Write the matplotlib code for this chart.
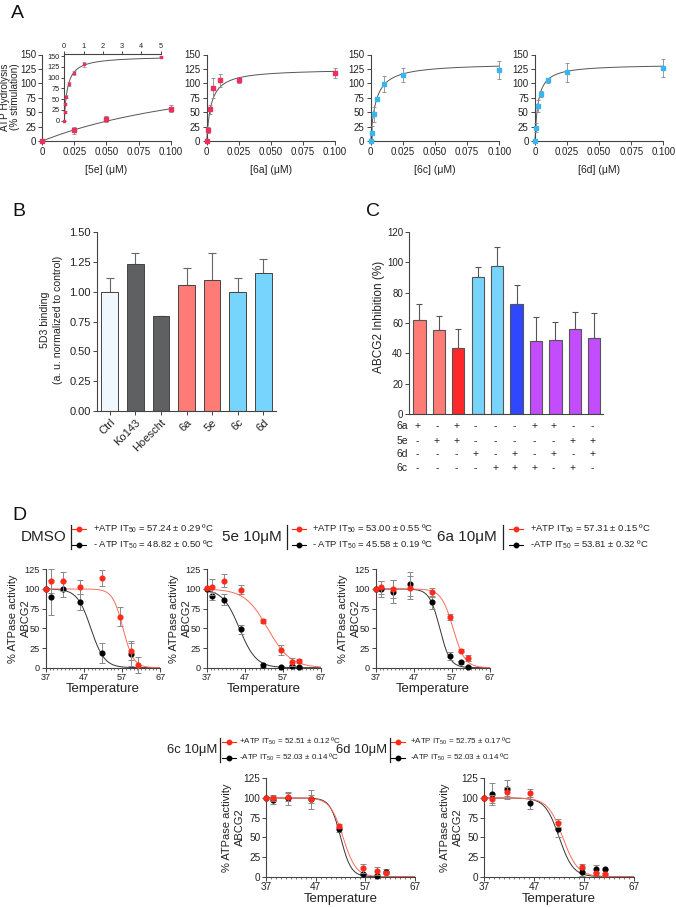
import numpy as np
import matplotlib
matplotlib.use('Agg')
import matplotlib.pyplot as plt
from matplotlib.lines import Line2D
from matplotlib.ticker import MultipleLocator

plt.rcParams['font.family'] = ['Liberation Sans', 'DejaVu Sans']
plt.rcParams['mathtext.fontset'] = 'custom'
plt.rcParams['mathtext.rm'] = 'Liberation Sans'
plt.rcParams['mathtext.it'] = 'Liberation Sans:italic'
plt.rcParams['mathtext.bf'] = 'Liberation Sans:bold'

# ---------------- data ----------------
# Panel A
a_conc_5e = [0, 0.025, 0.05, 0.1]
a_val_5e = [0, 19, 38, 56]
a_err_5e = [0, 6, 5, 6]
a_inset_conc_5e = [0, 0.025, 0.05, 0.1, 0.25, 0.5, 1, 5]
a_inset_val_5e = [0, 20, 39, 56, 85, 110, 131, 147]
a_inset_err_5e = [0, 3, 3, 3, 4, 5, 6, 2]
a_conc_6 = [0, 0.001, 0.0025, 0.005, 0.01, 0.025, 0.1]
a_val_6a = [0, 19, 55, 92, 105, 105, 118]
a_err_6a = [0, 5, 8, 17, 11, 5, 8]
a_val_6c = [0, 14, 46, 73, 99, 114, 123]
a_err_6c = [0, 12, 13, 3, 14, 12, 16]
a_val_6d = [0, 23, 61, 81, 105, 119, 127]
a_err_6d = [0, 8, 10, 5, 4, 17, 16]
a_fit_5e = (150, 0.168)
a_fit_6a = (125, 0.0035)
a_fit_6c = (135, 0.004)
a_fit_6d = (133, 0.0025)

# Panel B
b_labels = ['Ctrl', 'Ko143', 'Hoescht', '6a', '5e', '6c', '6d']
b_vals = [1.00, 1.235, 0.795, 1.06, 1.10, 0.995, 1.155]
b_errs = [0.115, 0.09, 0.005, 0.14, 0.225, 0.117, 0.12]
b_colors = ['#f0f7fd', '#5f6062', '#5f6062', '#ff7b75', '#ff7b75', '#77d4fc', '#77d4fc']

# Panel C
c_vals = [61.8, 55.6, 43.3, 90.1, 97.8, 72.7, 48.1, 48.8, 56.0, 50.3]
c_errs = [10.5, 8.8, 12.5, 6.8, 12.3, 12.3, 15.6, 12.1, 11.3, 16.5]
c_colors = ['#ff7b75', '#ff7b75', '#ff2828', '#77d4fc', '#77d4fc', '#2f47ff',
            '#c34dfc', '#c34dfc', '#c34dfc', '#c34dfc']
c_rows = ['6a', '5e', '6d', '6c']
c_signs = ['+-+---++--', '-++-----++', '---+-+-+-+', '----+++-+-']

# Panel D
d_temps = [37, 38.5, 41.5, 46.1, 51.7, 56.5, 59.4, 61.1]
nan = np.nan
d_dmso_red = [100, 110, 110, 103, 113.5, 64.8, 21.6, 3]
d_dmso_red_err = [0, 15, 12, 9, 10, 12, 12, 10]
d_dmso_blk = [100, 89.4, 100, 83, 19, nan, 17, nan]
d_dmso_blk_err = [0, 22, 10, 10, 13, 0, 15, 0]
d_5e_red = [100.8, 102.5, 110.6, 99, 59.3, 22.5, 7.6, 8.5]
d_5e_red_err = [0, 10, 8, 6, 3, 6, 5, 3]
d_5e_blk = [100, 91.5, 86.4, 48.7, 3, 1.3, 2, 1.3]
d_5e_blk_err = [0, 5, 7, 6, 2, 1, 1, 1]
d_6a_red = [100, 102, 100, 101.7, 95.8, 64.8, 21.6, 12.3]
d_6a_red_err = [0, 8, 12, 15, 6, 4, 2, 4]
d_6a_blk = [100, 100, 96.6, 106, 83, 15.3, 6.8, 1.3]
d_6a_blk_err = [0, 10, 15, 15, 8, 5, 2, 1]
d_6c_red = [100.4, 100.4, 101.7, 98.3, 64.4, 10.6, 6.8, 4.2]
d_6c_red_err = [0, 4, 5, 12, 3, 6, 5, 3]
d_6c_blk = [100, 97.5, 99.6, 98.7, 60.2, 3, 1.3, 6.4]
d_6c_blk_err = [0, 5, 8, 5, 3, 1, 2, 3]
d_6d_red = [100.4, 99, 108, 106, 68, 12.7, 4.2, 3.4]
d_6d_red_err = [0, 5, 6, 5, 5, 3, 2, 1]
d_6d_blk = [100, 105, 111, 93.6, 60, 5.5, 9.3, 9.3]
d_6d_blk_err = [0, 14, 12, 8, 10, 5, 5, 1]
# (IT50, slope) fits
d_fit = {
    'DMSO': ((57.24, 1.37), (48.82, 1.78)),
    '5e': ((53.00, 3.0), (45.58, 2.2)),
    '6a': ((57.31, 1.55), (53.81, 1.35)),
    '6c': ((52.51, 1.3), (52.03, 1.05)),
    '6d': ((52.75, 1.5), (52.03, 1.4)),
}
d_legend = {
    'DMSO': ('+ATP', '57.24 ± 0.29', '- ATP', '48.82 ± 0.50'),
    '5e': ('+ATP', '53.00 ± 0.55', '- ATP', '45.58 ± 0.19'),
    '6a': ('+ATP', '57.31 ± 0.15', '-ATP', '53.81 ± 0.32'),
    '6c': ('+ATP', '52.51 ± 0.12', '-ATP', '52.03 ± 0.14'),
    '6d': ('+ATP', '52.75 ± 0.17', '-ATP', '52.03 ± 0.14'),
}

# ---------------- figure ----------------
W, H = 676, 907
fig = plt.figure(figsize=(W / 100, H / 100), dpi=100)
TXT = '#222222'
SP = '#444444'


def rect(x0, x1, y0, y1):
    return [x0 / W, 1 - y1 / H, (x1 - x0) / W, (y1 - y0) / H]


def fx(x):
    return x / W


def fy(y):
    return 1 - y / H


def style(ax, fs=7.5, spines=('left', 'bottom')):
    for s in ['left', 'right', 'top', 'bottom']:
        ax.spines[s].set_visible(s in spines)
        ax.spines[s].set_color(SP)
        ax.spines[s].set_linewidth(0.8)
    ax.tick_params(colors=SP, labelcolor=TXT, labelsize=fs, length=3, width=0.7, pad=1.5)


def vtext(x, y, s, fs):
    fig.text(fx(x), fy(y), s, rotation=90, fontsize=fs, ha='center', va='center', color=TXT)


def panel_label(x, y, s):
    fig.text(fx(x), fy(y), s, fontsize=14, ha='left', va='center', color='#111')


# ---------- Panel A ----------
RED_A = '#ee2f5b'
BLUE_A = '#39b6f0'
a_specs = [
    (42.3, 170.7, a_conc_5e, a_val_5e, a_err_5e, a_fit_5e, RED_A, '[5e] (μM)'),
    (206.7, 335.0, a_conc_6, a_val_6a, a_err_6a, a_fit_6a, RED_A, '[6a] (μM)'),
    (370.7, 499.3, a_conc_6, a_val_6c, a_err_6c, a_fit_6c, BLUE_A, '[6c] (μM)'),
    (535.0, 663.3, a_conc_6, a_val_6d, a_err_6d, a_fit_6d, BLUE_A, '[6d] (μM)'),
]
for i, (x0, x1, xc, yv, ye, fit, col, xl) in enumerate(a_specs):
    ax = fig.add_axes(rect(x0, x1, 54.5, 141))
    style(ax, fs=7.0)
    xx = np.linspace(0, 0.1, 400)
    ax.plot(xx, fit[0] * xx / (fit[1] + xx), color='#555', lw=0.7, clip_on=False)
    ax.errorbar(xc, yv, yerr=ye, fmt='s', ms=2.5, color=col, ecolor='#888',
                elinewidth=0.6, capsize=1.5, capthick=0.6, clip_on=False, zorder=3)
    ax.set_xlim(0, 0.1)
    ax.set_ylim(0, 150)
    ax.set_xticks([0, 0.025, 0.05, 0.075, 0.1])
    ax.set_xticklabels(['0', '0.025', '0.050', '0.075', '0.100'])
    ax.set_yticks(range(0, 151, 25))
    fig.text(fx((x0 + x1) / 2), fy(170), xl, fontsize=7.5, ha='center', va='center', color=TXT)

# inset
axi = fig.add_axes(rect(64.3, 160.7, 54.3, 120.7))
style(axi, fs=5.3, spines=('left', 'top'))
axi.patch.set_alpha(0)
xx = np.linspace(0, 5, 600)
axi.plot(xx, a_fit_5e[0] * xx / (a_fit_5e[1] + xx), color='#555', lw=0.7)
axi.errorbar(a_inset_conc_5e, a_inset_val_5e, yerr=a_inset_err_5e, fmt='s', ms=2.0,
             color=RED_A, ecolor='#888', elinewidth=0.5, capsize=1.2, capthick=0.5,
             clip_on=False, zorder=3)
axi.set_xlim(0, 5)
axi.set_ylim(0, 154)
axi.xaxis.tick_top()
axi.set_xticks(range(0, 6))
axi.set_yticks(range(0, 151, 25))
axi.tick_params(length=2, pad=1)

vtext(5.5, 97, 'ATP Hydrolysis', 7.2)
vtext(15.5, 97, '(% stimulation)', 7.2)
panel_label(11, 13, 'A')

# ---------- Panel B ----------
axb = fig.add_axes(rect(97, 276, 232, 411))
style(axb, fs=8)
xb = np.arange(len(b_labels))
axb.bar(xb, b_vals, width=0.65, color=b_colors, edgecolor='#444', linewidth=0.7, zorder=2)
axb.errorbar(xb, b_vals, yerr=[np.zeros(len(b_vals)), b_errs], fmt='none', ecolor='#666',
             elinewidth=0.8, capsize=3, capthick=0.8, zorder=1)
axb.set_xlim(-0.5, 6.5)
axb.set_ylim(0, 1.5)
axb.set_yticks(np.arange(0, 1.51, 0.25))
axb.set_yticklabels(['%.2f' % v for v in np.arange(0, 1.51, 0.25)])
axb.set_xticks(xb)
axb.set_xticklabels(b_labels, rotation=45, ha='right', rotation_mode='anchor', fontsize=8)
vtext(45, 320, '5D3 binding', 7.6)
vtext(58, 320, '(a. u. normalized to control)', 7.6)
panel_label(12, 212, 'B')

# ---------- Panel C ----------
axc = fig.add_axes(rect(409.3, 603, 232, 414))
style(axc, fs=7)
xc = np.arange(len(c_vals))
axc.bar(xc, c_vals, width=0.63, color=c_colors, edgecolor='#555', linewidth=0.8, zorder=2)
axc.errorbar(xc, c_vals, yerr=[np.zeros(len(c_vals)), c_errs], fmt='none', ecolor='#555',
             elinewidth=0.8, capsize=2.5, capthick=0.8, zorder=1)
axc.set_xlim(-0.52, 9.45)
axc.set_ylim(0, 120)
axc.set_yticks(range(0, 121, 20))
axc.set_xticks([])
trans = axc.get_xaxis_transform()
row_y = [426, 440.7, 453.7, 467.7]
for name, signs, yp in zip(c_rows, c_signs, row_y):
    yf = (414 - yp) / 182.0
    axc.text(-0.6, yf, name, transform=trans, ha='right', va='center', fontsize=7.5, color=TXT)
    for j, s in enumerate(signs):
        axc.text(j - 0.1, yf, s, transform=trans, ha='center', va='center', fontsize=7.5,
                 color=TXT)
vtext(379, 317, 'ABCG2 Inhibition (%)', 8.5)
panel_label(366, 212, 'C')

# ---------- Panel D ----------
RED_D = '#ff2a1a'
RED_CURVE = '#ff6a5a'
d_specs = [
    ('DMSO', 45.7, 160.3, 569.3, 667.7, d_dmso_red, d_dmso_red_err, d_dmso_blk, d_dmso_blk_err, 33, 20, 6.6),
    ('5e', 206.7, 321.0, 569.3, 667.7, d_5e_red, d_5e_red_err, d_5e_blk, d_5e_blk_err, 33, 20, 6.6),
    ('6a', 375.7, 490.0, 569.3, 667.7, d_6a_red, d_6a_red_err, d_6a_blk, d_6a_blk_err, 33, 20, 6.6),
    ('6c', 266.0, 415.0, 778.3, 876.7, d_6c_red, d_6c_red_err, d_6c_blk, d_6c_blk_err, 39, 26, 7.2),
    ('6d', 484.0, 634.0, 778.3, 876.7, d_6d_red, d_6d_red_err, d_6d_blk, d_6d_blk_err, 39, 26, 7.2),
]
tt = np.linspace(37, 67, 400)
for key, x0, x1, y0, y1, rv, re, bv, be, off1, off2, tfs in d_specs:
    ax = fig.add_axes(rect(x0, x1, y0, y1))
    style(ax, fs=tfs)
    ax.tick_params(pad=1)
    (ir, sr), (ib, sb) = d_fit[key]
    ax.plot(tt, 100 / (1 + np.exp((tt - ib) / sb)), color='#333', lw=0.7, zorder=2)
    ax.plot(tt, 100 / (1 + np.exp((tt - ir) / sr)), color=RED_CURVE, lw=0.7, zorder=2)
    ax.errorbar(d_temps, bv, yerr=be, fmt='o', ms=3.4, color='black', ecolor='#888',
                elinewidth=0.7, capsize=2, capthick=0.7, clip_on=False, zorder=3)
    ax.errorbar(d_temps, rv, yerr=re, fmt='o', ms=3.4, color=RED_D, ecolor='#888',
                elinewidth=0.7, capsize=2, capthick=0.7, clip_on=False, zorder=4)
    ax.set_xlim(37, 67)
    ax.set_ylim(0, 125)
    ax.set_xticks([37, 47, 57, 67])
    ax.xaxis.set_minor_locator(MultipleLocator(1))
    ax.tick_params(which='minor', length=1.5, width=0.5, color=SP)
    ax.set_yticks(range(0, 126, 25))
    ax.set_xlabel('Temperature', fontsize=9.5, color=TXT, labelpad=0.5)
    yc = (y0 + y1) / 2
    vtext(x0 - off1, yc, '% ATPase activity', 8.0)
    vtext(x0 - off2, yc, 'ABCG2', 8.0)


def d_header(key, label, xr, yc, bar_x, mk_x, txt_x, fs_head, fs_leg, half):
    fig.text(fx(xr), fy(yc), label, ha='right', va='center', fontsize=fs_head, color=TXT)
    fig.add_artist(Line2D([fx(bar_x)] * 2, [fy(yc - half), fy(yc + half)], color='#222', lw=0.9))
    p1, v1, p2, v2 = d_legend[key]
    for dy, col, pre, val in [(-8.5, RED_D, p1, v1), (7.5, 'black', p2, v2)]:
        yy = yc + dy
        fig.add_artist(Line2D([fx(mk_x - 7), fx(mk_x), fx(mk_x + 7)], [fy(yy)] * 3, color=col,
                              lw=0.8, marker='o', ms=3.2, markevery=[1]))
        fig.text(fx(txt_x), fy(yy), pre + r' $\mathrm{IT}_{50}$ = ' + val + ' ºC', ha='left',
                 va='center', fontsize=fs_leg, color=TXT)


d_header('DMSO', 'DMSO', 67, 537, 70.7, 79, 93, 11, 6.8, 12)
d_header('5e', '5e 10μM', 282, 537, 287, 299, 312, 11, 6.8, 12)
d_header('6a', '6a 10μM', 497, 537, 503, 516, 530, 11, 6.8, 12)
d_header('6c', '6c 10μM', 217, 750, 219.5, 229, 239, 9.4, 5.8, 12)
d_header('6d', '6d 10μM', 387, 750, 390, 398, 410, 9.4, 5.8, 12)
panel_label(12, 515, 'D')

fig.savefig('out.png', dpi=100)
